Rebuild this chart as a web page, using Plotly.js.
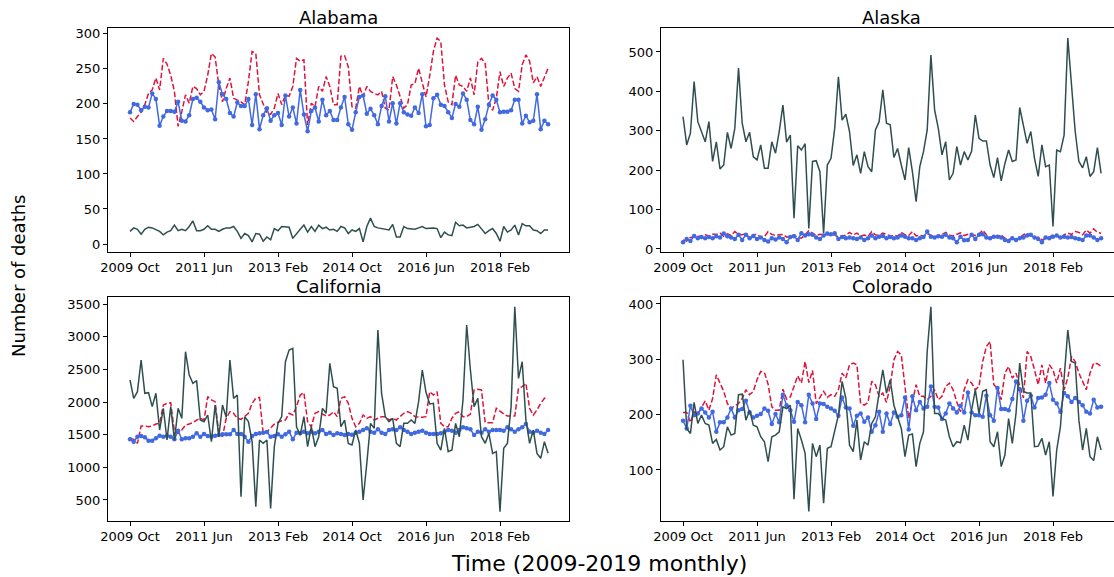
<!DOCTYPE html>
<html><head><meta charset="utf-8">
<script src="https://cdn.plot.ly/plotly-3.0.1.min.js"></script>
<style>html,body{margin:0;padding:0;overflow:hidden;background:#fff;width:1114px;height:577px}#chart{width:1130px;height:577px}</style>
</head><body><div id="chart"></div><script>
// Tick labels (every 20 months starting 2009 Oct)
const tickLabels = ["2009 Oct","2011 Jun","2013 Feb","2014 Oct","2016 Jun","2018 Feb"];
const tickIndex = [0,20,40,60,80,100];
const states = ["Alabama","Alaska","California","Colorado"];

const alabamaRed = [180,175,182,188,199,215,220,237,220,265,257,241,218,168,189,213,201,225,222,213,218,241,272,267,227,203,222,237,208,206,203,199,232,275,272,213,199,187,185,194,215,
199,212,211,225,265,261,263,170,201,196,225,218,239,225,199,199,268,269,253,196,194,225,211,225,218,215,213,218,194,191,239,227,211,194,199,227,229,251,230,210,240,
275,294,289,227,203,199,241,227,225,218,237,213,260,265,258,199,191,208,246,225,237,244,222,218,256,270,261,230,239,225,239,251];
const alabamaBlue = [188,200,199,191,196,195,215,207,169,182,190,190,189,203,176,175,184,207,209,203,195,191,192,178,231,214,207,187,182,202,197,197,207,170,214,164,184,194,176,184,187,
170,212,182,195,172,220,185,161,190,195,175,206,184,190,177,177,195,210,171,163,188,210,212,186,193,184,171,197,211,175,201,172,201,188,185,183,195,187,214,168,170,
208,213,199,197,188,180,200,196,215,206,177,171,196,163,178,199,212,206,188,189,189,191,206,206,172,183,174,176,214,164,176,171];
const alabamaDark = [18,23,21,14,21,24,23,21,18,13,17,19,27,19,21,19,25,33,19,19,21,26,21,21,18,21,23,23,25,18,8,15,12,3,15,14,4,10,6,
22,19,25,25,24,8,15,21,27,17,25,18,27,22,24,20,21,18,25,23,
15,20,18,22,3,25,37,25,23,22,21,20,28,10,10,25,22,22,21,23,25,22,23,
23,22,9,17,13,12,31,26,27,23,24,25,28,21,15,19,22,15,4,25,17,20,27,13,29,26,26,20,19,15,20,20];

const alaskaRed = [23,20,29,30,31,33,36,33,37,37,40,32,38,34,44,37,36,39,27,36,37,29,31,44,37,34,36,37,30,32,36,29,27,36,46,40,34,37,36,
37,34,36,30,33,35,42,36,40,33,35,32,44,36,34,40,37,33,35,32,42,36,34,44,33,35,32,38,35,31,34,36,42,35,33,37,41,34,37,36,34,
37,48,36,27,34,30,36,27,23,29,20,27,36,40,34,27,30,23,27,30,36,34,27,36,40,37,44,42,36,48,40,51,42,40];
const alaskaBlue = [17,25,20,33,27,30,27,30,27,32,29,39,32,29,25,36,23,36,27,33,25,29,23,19,27,24,29,25,17,30,32,23,40,34,37,36,29,25,34,
39,37,40,25,30,27,29,27,25,29,23,27,34,27,31,33,27,30,27,29,34,31,27,27,23,27,30,44,31,29,32,31,36,29,27,17,31,22,23,36,25,
36,37,29,27,31,31,29,23,20,27,23,27,29,34,36,29,25,17,29,27,31,34,29,31,29,30,27,25,23,34,34,29,23,27];
const alaskaDark = [336,264,294,425,323,298,272,323,222,272,203,213,296,255,306,459,319,272,296,234,226,264,205,205,272,243,298,365,271,289,78,262,251,267,52,222,224,196,40,
213,230,306,437,327,342,298,212,239,192,247,209,196,302,323,404,319,315,232,255,213,175,257,196,120,209,247,302,492,353,306,239,272,175,192,260,213,247,226,248,340,
281,274,274,213,181,232,173,217,251,222,226,359,315,268,298,230,184,264,209,213,57,251,247,289,535,416,298,222,206,234,184,196,257,192];

const californiaRed = [1444,1429,1367,1633,1633,1622,1633,1663,1673,1954,1980,1990,1546,1520,1571,1648,1663,1684,1724,1750,1724,2082,2031,2005,1520,1469,1750,1852,1827,1750,1735,1776,1827,1980,2056,2071,1520,1546,1600,1660,1690,
1714,1724,1827,1801,1929,2107,2143,1699,1622,1827,1852,1816,1786,1801,1852,1776,2056,2082,1980,1750,1622,1673,1801,1750,1776,1724,1750,1776,1776,1724,1750,1724,1776,1827,1852,1827,1776,1765,
1765,1776,2158,2107,2158,1673,1622,1622,1750,1827,1852,1776,1776,1816,2184,2194,2184,1684,1684,1684,1903,1852,1816,1786,1786,1786,2209,2235,2286,1903,1801,1878,1980,2056,2056];
const californiaBlue = [1429,1393,1469,1480,1459,1408,1408,1444,1485,1469,1480,1469,1429,1561,1429,1444,1444,1469,1520,1469,1510,1480,1469,1485,1495,1505,1505,1505,1571,1510,1510,1469,1393,1480,1510,1520,1531,1541,1469,1480,1505,
1469,1505,1546,1429,1531,1520,1546,1520,1546,1520,1546,1571,1510,1531,1495,1520,1510,1495,1510,1500,1531,1546,1571,1597,1546,1531,1582,1531,1510,1571,1582,1571,1612,1571,1546,1510,1531,1546,1561,1531,1510,
1510,1510,1520,1546,1571,1561,1531,1571,1612,1597,1582,1495,1546,1531,1582,1546,1571,1571,1571,1561,1612,1582,1546,1582,1612,1663,1546,1531,1561,1531,1510,1571];
const californiaDark = [2337,2056,2158,2643,2133,2143,1929,2133,1571,1903,1418,1929,1418,1903,1750,2770,2413,2286,2327,1724,1699,1801,1393,1954,1469,1954,1765,2643,2056,2107,551,1776,1699,1393,398,1418,1367,1418,372,1316,1673,
1776,2617,2796,2821,1622,1495,1776,1316,1622,1316,1469,1903,1827,2592,2235,2209,1622,1724,1367,1342,1571,1367,500,1061,1673,1597,3102,2133,1776,1699,1750,1367,1316,1673,1673,1724,1673,2005,2490,2150,1970,
1980,1367,1265,1597,1240,1265,1673,1469,2031,3179,2490,1929,2056,1469,1367,1520,1214,1240,321,1291,1367,1929,3459,2362,2617,1724,1367,1571,1214,1138,1393,1214];

const coloradoRed = [204,204,186,205,201,214,225,208,229,272,257,242,220,211,216,220,229,245,236,242,263,278,276,255,214,208,208,246,228,232,251,270,257,296,258,280,220,230,242,
231,236,233,245,275,266,290,293,290,220,217,222,260,254,233,239,222,252,299,314,308,254,193,223,254,233,233,227,233,245,227,233,251,257,245,223,205,245,263,257,245,
251,296,323,332,254,248,227,275,287,266,275,251,230,314,305,281,254,290,257,290,281,257,284,245,266,305,296,275,260,245,275,293,292,287];
const coloradoBlue = [189,175,216,199,202,211,204,195,205,169,186,186,195,211,195,208,210,225,204,195,198,201,211,207,183,201,186,236,217,208,187,223,217,186,236,220,192,220,219,
214,211,207,198,231,213,211,180,198,202,187,195,169,181,205,169,202,183,204,196,199,231,173,233,208,223,211,214,251,214,213,192,202,220,211,204,216,204,240,204,199,
199,196,234,199,189,248,210,210,208,228,260,246,189,225,234,213,230,231,236,257,227,220,205,239,233,223,230,223,217,205,202,227,213,214];
const coloradoDark = [299,175,166,222,184,199,184,181,148,155,136,142,178,163,166,236,237,190,208,181,178,160,151,115,160,163,169,214,211,217,47,175,154,130,25,148,124,145,40,
139,142,169,199,260,230,145,133,190,118,151,145,184,196,239,281,239,263,217,196,175,124,163,165,106,148,169,314,395,202,202,193,190,160,142,151,149,181,154,208,245,
202,242,245,151,142,169,106,127,193,148,202,293,242,239,239,142,143,157,127,151,52,136,178,263,353,296,293,190,136,175,124,117,160,136];

const yTicks = {
  Alabama: [0,50,100,150,200,250,300],
  Alaska: [0,100,200,300,400,500],
  California: [500,1000,1500,2000,2500,3000,3500],
  Colorado: [100,200,300,400]
};
const yRanges = {
  Alabama: [-11, 308],
  Alaska: [-7, 560],
  California: [183, 3603],
  Colorado: [8.3, 412]
};
const seriesByState = {
  Alabama: [alabamaRed, alabamaBlue, alabamaDark],
  Alaska: [alaskaRed, alaskaBlue, alaskaDark],
  California: [californiaRed, californiaBlue, californiaDark],
  Colorado: [coloradoRed, coloradoBlue, coloradoDark]
};

const W = 1130, H = 577;
const boxes = [ // [left, right, top, bottom] in px
  [108, 569, 28.3, 251.7],
  [661, 1122, 28.3, 251.7],
  [108, 569, 297.3, 520.7],
  [661, 1122, 297.3, 520.7]
];
const FONT = "DejaVu Sans, Liberation Sans, sans-serif";
const data = [];
const layout = {
  width: W, height: H,
  margin: {l:0, r:0, t:0, b:0},
  paper_bgcolor: "#fff", plot_bgcolor: "#fff",
  showlegend: false,
  font: {family: FONT, size: 13, color: "#000"},
  annotations: []
};

states.forEach((st, k) => {
  const n = k + 1;
  const xa = n === 1 ? "x" : "x" + n;
  const ya = n === 1 ? "y" : "y" + n;
  const [red, blue, dark] = seriesByState[st];
  const xs = blue.map((_, i) => i);
  data.push({x: xs, y: red, xaxis: xa, yaxis: ya, type: "scatter", mode: "lines",
    line: {color: "#DC143C", width: 1.5, dash: "5.5px,2.4px"}, hoverinfo: "skip"});
  data.push({x: xs, y: blue, xaxis: xa, yaxis: ya, type: "scatter", mode: "lines+markers",
    line: {color: "#4169E1", width: 1.5}, marker: {color: "#4169E1", size: 4.5}, hoverinfo: "skip"});
  data.push({x: xs, y: dark, xaxis: xa, yaxis: ya, type: "scatter", mode: "lines",
    line: {color: "#2F4F4F", width: 1.5}, hoverinfo: "skip"});
  const b = boxes[k];
  const axCommon = {showline: true, mirror: true, linecolor: "#000", linewidth: 1,
    ticks: "outside", ticklen: 4, tickwidth: 1, tickcolor: "#000",
    showgrid: false, zeroline: false, tickfont: {family: FONT, size: 13, color: "#000"}};
  layout["xaxis" + (n === 1 ? "" : n)] = Object.assign({}, axCommon, {
    domain: [b[0] / W, b[1] / W], anchor: ya, range: [-5.95, 118.65],
    tickmode: "array", tickvals: tickIndex, ticktext: tickLabels});
  layout["yaxis" + (n === 1 ? "" : n)] = Object.assign({}, axCommon, {
    domain: [(H - b[3]) / H, (H - b[2]) / H], anchor: xa, range: yRanges[st],
    tickmode: "array", tickvals: yTicks[st], ticktext: yTicks[st].map(String)});
  layout.annotations.push({text: st, xref: "paper", yref: "paper",
    x: (b[0] + b[1]) / 2 / W, y: (H - (b[2] - 11)) / H, xanchor: "center", yanchor: "middle",
    showarrow: false, font: {family: FONT, size: 18, color: "#000"}});
});
layout.annotations.push({text: "Number of deaths", xref: "paper", yref: "paper",
  x: 18 / W, y: (H - 276) / H, xanchor: "center", yanchor: "middle", textangle: -90,
  showarrow: false, font: {family: FONT, size: 18, color: "#000"}});
layout.annotations.push({text: "Time (2009-2019 monthly)", xref: "paper", yref: "paper",
  x: 599 / W, y: (H - 563) / H, xanchor: "center", yanchor: "middle",
  showarrow: false, font: {family: FONT, size: 22, color: "#000"}});

Plotly.newPlot("chart", data, layout, {staticPlot: true, displayModeBar: false});
</script></body></html>
